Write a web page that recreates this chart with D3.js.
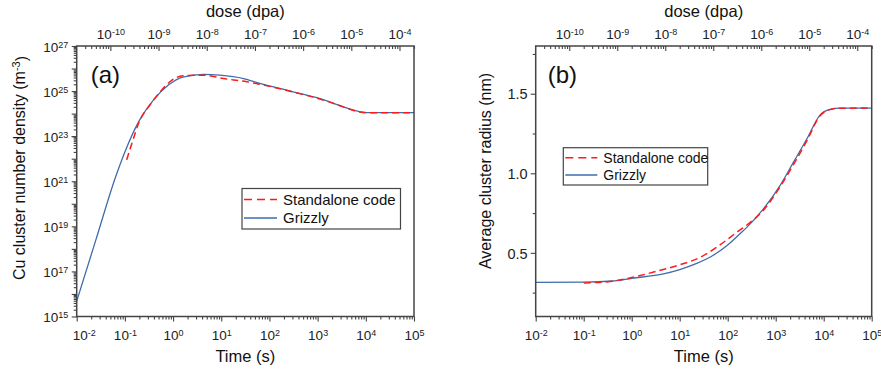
<!DOCTYPE html>
<html>
<head>
<meta charset="utf-8">
<script src="https://cdnjs.cloudflare.com/ajax/libs/d3/7.8.5/d3.min.js"></script>
<style>
  body { margin: 0; background: #fff; }
  svg { display: block; font-family: "Liberation Sans", Arial, sans-serif; }
</style>
</head>
<body>
<svg width="881" height="372"></svg>
<script>
// dpa per second, links top (dose) axis to bottom (time) axis
var doseRate = 2e-9;

var seriesNames = ["Standalone code", "Grizzly"];

// (a) Cu cluster number density (m^-3)
var timeStandA = [0.109, 0.14, 0.2, 0.33, 0.54, 0.86, 1.6, 4.3, 11, 34, 63, 310, 1550, 3400, 7600, 10500, 1e5];
var densStand  = [8.9e21, 4.9e22, 4.5e23, 2.4e24, 9.3e24, 2.6e25, 4.8e25, 5.1e25, 3.6e25, 2.6e25, 2.0e25, 9.1e24, 3.6e24, 2.0e24, 1.17e24, 1.1e24, 1.1e24];
var timeGrizA  = [0.01, 0.025, 0.063, 0.1, 0.2, 0.39, 0.8, 1.6, 4.3, 9.3, 29, 63, 310, 1550, 3400, 7600, 10500, 1e5];
var densGriz   = [4.8e15, 2.5e18, 1.4e21, 2.0e22, 5.0e23, 4.0e24, 1.86e25, 4.2e25, 5.5e25, 5.1e25, 3.6e25, 2.2e25, 9.3e24, 3.7e24, 2.0e24, 1.2e24, 1.1e24, 1.1e24];

// (b) average cluster radius (nm)
var timeStandB = [0.1, 0.32, 1, 3.2, 10, 26, 69, 155, 320, 600, 1230, 2350, 4470, 8300, 13500, 21900, 1e5];
var radStand   = [0.311, 0.318, 0.345, 0.383, 0.425, 0.47, 0.55, 0.63, 0.70, 0.78, 0.915, 1.055, 1.205, 1.36, 1.40, 1.409, 1.41];
var timeGrizB  = [0.01, 0.1, 0.4, 1, 4.6, 10, 22, 50, 100, 180, 250, 550, 1230, 2350, 4470, 8300, 13500, 21900, 1e5];
var radGriz    = [0.315, 0.316, 0.323, 0.34, 0.368, 0.395, 0.432, 0.485, 0.55, 0.62, 0.66, 0.775, 0.923, 1.07, 1.217, 1.364, 1.401, 1.409, 1.41];

var timeTicks = [1e-2, 1e-1, 1e0, 1e1, 1e2, 1e3, 1e4, 1e5];
var doseTicks = [1e-10, 1e-9, 1e-8, 1e-7, 1e-6, 1e-5, 1e-4];
var densTicks = [1e15, 1e17, 1e19, 1e21, 1e23, 1e25, 1e27];
var radTicks  = [0.5, 1.0, 1.5];

var svg = d3.select("svg");
var frameColor = "#444";
var blue = "#3d6dab", red = "#ff1a1a";

function logMinors(lo, hi, withDecades) {
  var out = [];
  for (var k = Math.round(Math.log10(lo)); k < Math.round(Math.log10(hi)); k++) {
    for (var m = withDecades ? 1 : 2; m <= 9; m++) out.push(m * Math.pow(10, k));
  }
  return out;
}

function powLabel(sel) {
  sel.each(function(d) {
    var e = Math.round(Math.log10(d));
    var t = d3.select(this).text(null);
    t.append("tspan").text("10");
    t.append("tspan").attr("dy", "-0.45em").attr("font-size", "9px").text(String(e));
  });
}

function styleAxis(g, size) {
  g.attr("font-family", null).attr("font-size", size);
  g.select(".domain").remove();
  g.selectAll(".tick line").attr("stroke", frameColor).attr("stroke-width", 1.1);
  g.selectAll(".tick text").attr("fill", "#222");
}

function drawPanel(p) {
  var g = svg.append("g");
  var x = d3.scaleLog().domain([1e-2, 1e5]).range([p.x0, p.x1]);
  var xd = d3.scaleLog().domain([1e-2 * doseRate, 1e5 * doseRate]).range([p.x0, p.x1]);
  var y = p.y;

  // bottom time axis
  var bx = g.append("g").attr("transform", "translate(0," + p.y1 + ")")
    .call(d3.axisBottom(x).tickValues(timeTicks).tickSize(5));
  styleAxis(bx, 13.5);
  bx.selectAll(".tick text").attr("y", 23.5).attr("dy", null).call(powLabel);
  if (p.shiftFirst) bx.select(".tick text").attr("dx", 7);
  var bm = g.append("g").attr("transform", "translate(0," + p.y1 + ")")
    .call(d3.axisBottom(x).tickValues(logMinors(1e-2, 1e5)).tickSize(3).tickFormat(""));
  styleAxis(bm, 10);

  // top dose axis (ticks inward)
  var tx = g.append("g").attr("transform", "translate(0," + p.y0 + ")")
    .call(d3.axisTop(xd).tickValues(doseTicks).tickSize(-5).tickPadding(7));
  styleAxis(tx, 13.5);
  tx.selectAll(".tick text").call(powLabel);
  var tm = g.append("g").attr("transform", "translate(0," + p.y0 + ")")
    .call(d3.axisTop(xd).tickValues(logMinors(1e-11, 1e-3).filter(function(v) {
      return v >= xd.domain()[0] && v <= xd.domain()[1];
    })).tickSize(-3).tickFormat(""));
  styleAxis(tm, 10);

  // left axis
  var ly = g.append("g").attr("transform", "translate(" + p.x0 + ",0)");
  if (p.logY) {
    ly.call(d3.axisLeft(y).tickValues(densTicks).tickSize(5).tickPadding(3.5));
    styleAxis(ly, 13.5);
    ly.selectAll(".tick text").attr("dy", "0.38em").call(powLabel);
    var lm = g.append("g").attr("transform", "translate(" + p.x0 + ",0)")
      .call(d3.axisLeft(y).tickValues(logMinors(1e15, 1e27, true).filter(function(v) {
        return densTicks.indexOf(v) < 0;
      })).tickSize(3).tickFormat(""));
    styleAxis(lm, 10);
    // even decades get a longer tick
    lm.selectAll(".tick line").attr("x2", function(d) {
      return Math.abs(Math.log10(d) - Math.round(Math.log10(d))) < 1e-9 ? -5 : -3;
    });
  } else {
    ly.call(d3.axisLeft(y).tickValues(radTicks).tickSize(5).tickPadding(3).tickFormat(d3.format(".1f")));
    styleAxis(ly, 14.5);
    ly.selectAll(".tick text").attr("dy", "0.36em");
    var lm2 = g.append("g").attr("transform", "translate(" + p.x0 + ",0)")
      .call(d3.axisLeft(y).tickValues([0.25, 0.75, 1.25, 1.75]).tickSize(3).tickFormat(""));
    styleAxis(lm2, 10);
  }

  // curves
  var clip = "clip" + p.name;
  g.append("clipPath").attr("id", clip).append("rect")
    .attr("x", p.x0).attr("y", p.y0).attr("width", p.x1 - p.x0).attr("height", p.y1 - p.y0);
  var line = d3.line().x(function(d) { return x(d[0]); }).y(function(d) { return y(d[1]); })
    .curve(d3.curveMonotoneX);
  g.append("path").attr("clip-path", "url(#" + clip + ")")
    .attr("d", line(d3.zip(p.tGriz, p.vGriz)))
    .attr("fill", "none").attr("stroke", blue).attr("stroke-width", 1.3);
  g.append("path").attr("clip-path", "url(#" + clip + ")")
    .attr("d", line(d3.zip(p.tStand, p.vStand)))
    .attr("fill", "none").attr("stroke", red).attr("stroke-width", 1.5).attr("stroke-dasharray", "7,4");

  // frame
  g.append("rect").attr("x", p.x0).attr("y", p.y0)
    .attr("width", p.x1 - p.x0).attr("height", p.y1 - p.y0)
    .attr("fill", "none").attr("stroke", frameColor).attr("stroke-width", 1.5);

  // titles
  g.append("text").attr("x", (p.x0 + p.x1) / 2).attr("y", 362).attr("text-anchor", "middle")
    .attr("font-size", 16.5).attr("fill", "#111").text("Time (s)");
  g.append("text").attr("x", (p.x0 + p.x1) / 2).attr("y", 17).attr("text-anchor", "middle")
    .attr("font-size", 16.5).attr("fill", "#111").text("dose (dpa)");
  var yt = g.append("text").attr("transform", "translate(" + p.ytX + "," + p.ytY + ") rotate(-90)")
    .attr("text-anchor", "middle").attr("font-size", 16).attr("fill", "#111");
  yt.append("tspan").text(p.yTitle[0]);
  if (p.yTitle.length > 1) {
    yt.append("tspan").attr("dy", "-0.45em").attr("font-size", "11px").text(p.yTitle[1]);
    yt.append("tspan").attr("dy", "0.45em").text(p.yTitle[2]);
  }
  g.append("text").attr("x", p.x0 + p.tagDx).attr("y", 83).attr("font-size", 24)
    .attr("fill", "#111").text(p.tag);

  // legend
  var L = p.legend;
  g.append("rect").attr("x", L.x).attr("y", L.y).attr("width", L.w).attr("height", L.h)
    .attr("fill", "#fff").attr("stroke", frameColor).attr("stroke-width", 1.2);
  var rows = g.selectAll(".leg").data(seriesNames).enter().append("g")
    .attr("transform", function(d, i) { return "translate(" + (L.x + 2) + "," + (L.y + L.r0 + i * L.dy) + ")"; });
  rows.append("line").attr("x1", 0).attr("x2", L.sw).attr("y1", 0).attr("y2", 0)
    .attr("stroke", function(d, i) { return i === 0 ? red : blue; })
    .attr("stroke-width", function(d, i) { return i === 0 ? 1.6 : 1.3; })
    .attr("stroke-dasharray", function(d, i) { return i === 0 ? "8,5" : null; });
  rows.append("text").attr("x", L.sw + 6).attr("y", 0).attr("dy", "0.36em")
    .attr("font-size", L.fs).attr("fill", "#111").text(function(d) { return d; });
}

drawPanel({
  name: "a", x0: 76.7, x1: 414, y0: 46, y1: 316.5, logY: true, shiftFirst: true,
  y: d3.scaleLog().domain([1e15, 1e27]).range([316.5, 46]),
  tStand: timeStandA, vStand: densStand, tGriz: timeGrizA, vGriz: densGriz,
  yTitle: ["Cu cluster number density (m", "-3", ")"], ytX: 25, ytY: 168,
  tag: "(a)", tagDx: 14,
  legend: { x: 242, y: 188.5, w: 158.5, h: 40.5, r0: 11, dy: 18.5, sw: 33, fs: 15 }
});

drawPanel({
  name: "b", x0: 535.7, x1: 871.7, y0: 46, y1: 316.5, logY: false,
  y: d3.scaleLinear().domain([0.1, 1.8]).range([316.5, 46]),
  tStand: timeStandB, vStand: radStand, tGriz: timeGrizB, vGriz: radGriz,
  yTitle: ["Average cluster radius (nm)"], ytX: 491, ytY: 171,
  tag: "(b)", tagDx: 12,
  legend: { x: 563.3, y: 147.7, w: 144.4, h: 37.3, r0: 10, dy: 17.3, sw: 32, fs: 14 }
});
</script>
</body>
</html>
